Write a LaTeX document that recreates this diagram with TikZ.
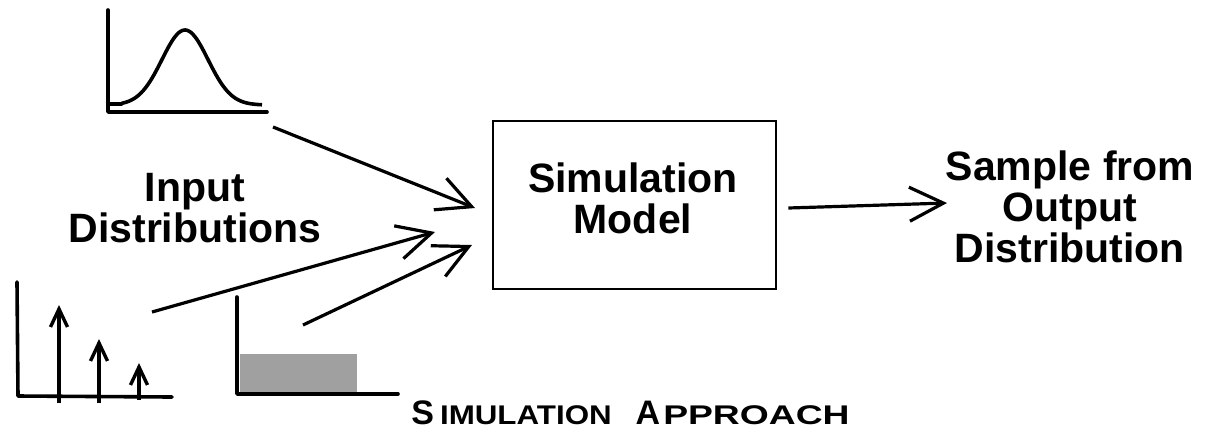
\documentclass[tikz,border=0pt]{standalone}
\usepackage{fontspec}
\setmainfont{Liberation Sans}
\usepackage{graphicx}
\usetikzlibrary{arrows.meta}
\definecolor{boxgray}{HTML}{A0A0A0}
\begin{document}
\begin{tikzpicture}[x=0.5pt,y=-0.5pt,
  axis/.style={line width=1.8pt, line cap=round, line join=round},
  curve/.style={line width=1.8pt, line join=round},
  arr/.style={line width=1.6pt, -{Straight Barb[length=17pt,width=17pt,line width=1.6pt]}},
  spike/.style={line width=1.7pt, -{Straight Barb[length=9pt,width=8.5pt,line width=1.7pt]}},
  lbl/.style={font=\fontsize{20.5}{20.5}\selectfont\bfseries, align=center, inner sep=0pt},
  modelbox/.style={draw, line width=1.4pt, minimum width=141.5pt, minimum height=84pt, inner sep=0pt}
]
\useasboundingbox (0,0) rectangle (1221,441);

% normal distribution plot
\draw[axis] (108,10) -- (108,112) -- (267,112);
\draw[curve] (110,104) -- (122,104) -- plot[domain=122:262, samples=80, smooth] (\x, {105 - 75*exp(-((\x-185)/23)^2/2)});

% discrete distribution plot
\draw[axis] (17,282) -- (18,396) -- (172,397);
\draw[spike] (59,403) -- (59,305);
\draw[spike] (99,403) -- (99,339);
\draw[spike] (139,400) -- (139,363);

% uniform distribution plot
\fill[boxgray] (240,354) rectangle (357,392);
\draw[axis] (237,297) -- (237,394) -- (398,394);

% labels
\node[lbl] (inp) at (195,208) {Input\\Distributions};
\node[modelbox] (model) at (634.5,205) {};
\node[lbl] (modeltxt) at (633,198.5) {Simulation\\Model};
\node[lbl] (out) at (1070,207) {Sample from\\Output\\Distribution};

% connectors
\coordinate (n1) at (273,127);
\coordinate (t1) at (475,208);
\coordinate (n2) at (152,312);
\coordinate (t2) at (435,232);
\coordinate (n3) at (303,325);
\coordinate (t3) at (472,245);
\coordinate (o1) at (947,203);
\draw[arr] (n1) -- (t1);
\draw[arr] (n2) -- (t2);
\draw[arr] (n3) -- (t3);
\draw[arr] ([xshift=5.5pt,yshift=-1.5pt]model.east) -- (o1);

% title
\node[anchor=base west, inner sep=0pt] (title) at (411,424) {\bfseries\fontsize{17}{18}\selectfont S\hspace{3pt}\scalebox{1.16}[1]{\fontsize{13.5}{14}\selectfont IMULATION}\hspace{12pt}A\hspace{1.5pt}\scalebox{1.38}[1]{\fontsize{13.5}{14}\selectfont PPROACH}};
\end{tikzpicture}
\end{document}
